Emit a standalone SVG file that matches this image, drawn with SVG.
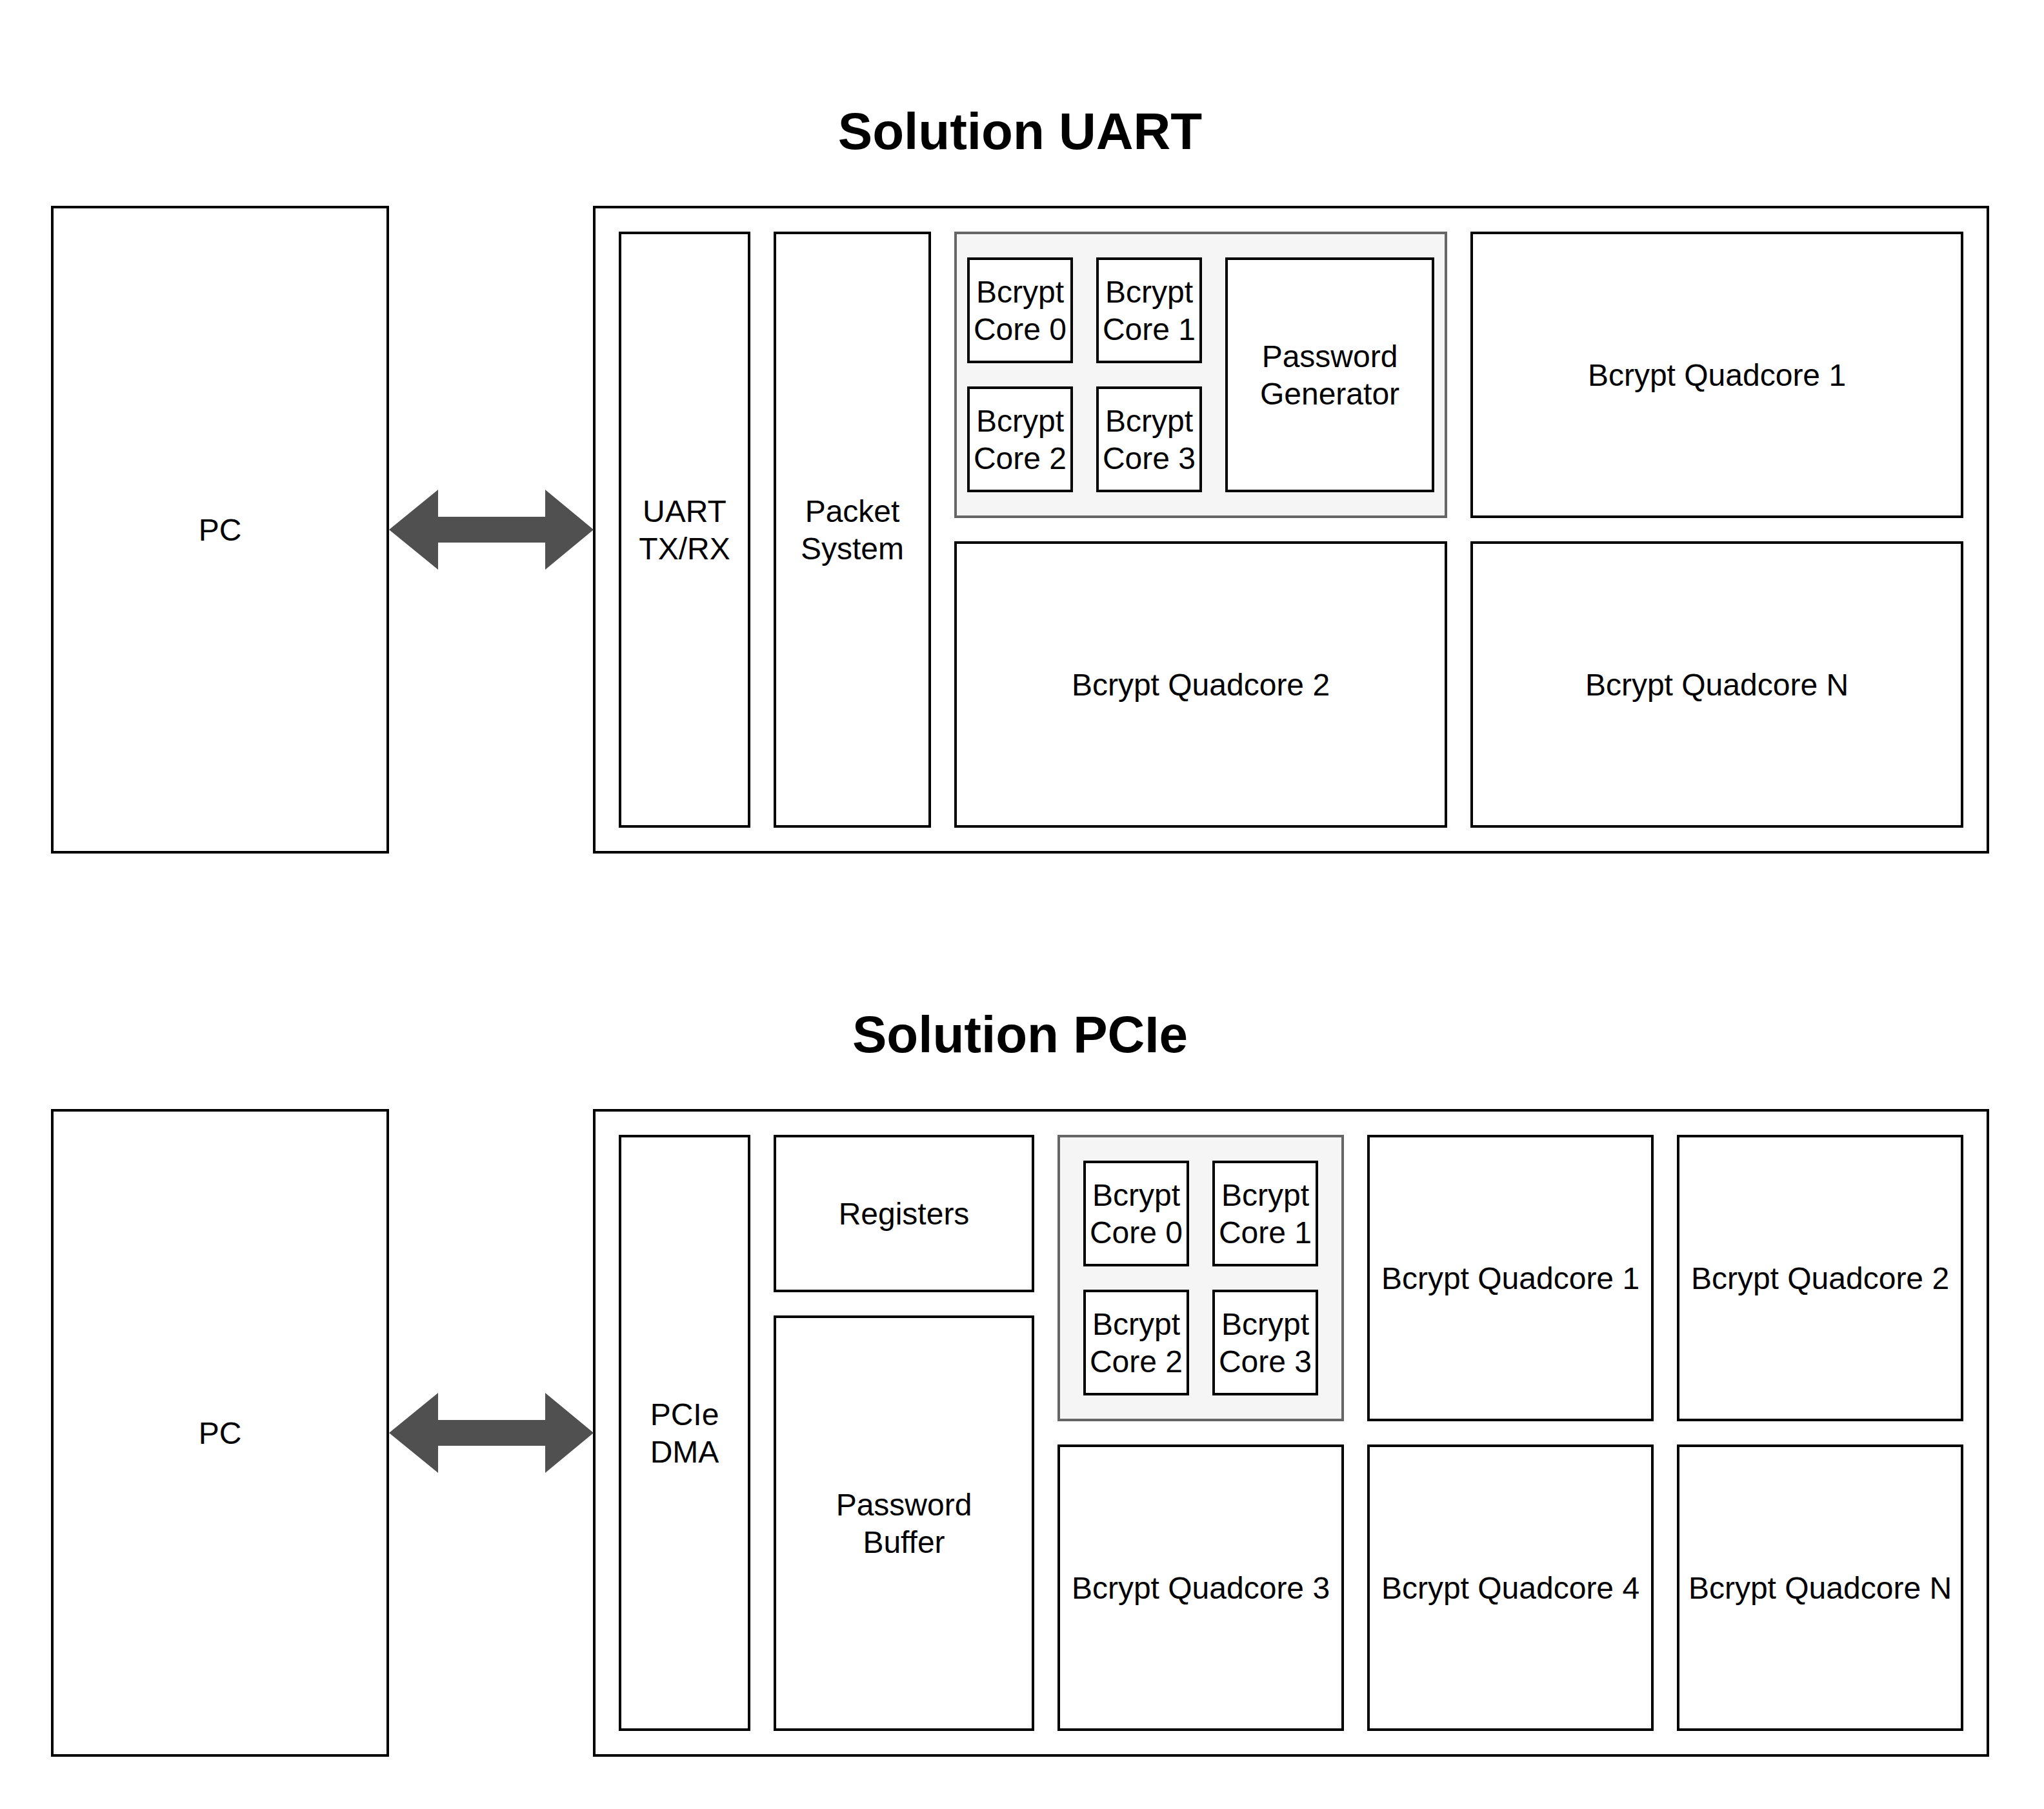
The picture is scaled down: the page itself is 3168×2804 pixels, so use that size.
<svg xmlns="http://www.w3.org/2000/svg" width="3168" height="2804" viewBox="0 0 3168 2804">
<style>
.b{fill:#ffffff;stroke:#000000;stroke-width:4}
.g{fill:#f5f5f5;stroke:#666666;stroke-width:4}
.t{font-family:"Liberation Sans",Arial,Helvetica,sans-serif;font-size:48px;fill:#000000;text-anchor:middle}
.h{font-family:"Liberation Sans",Arial,Helvetica,sans-serif;font-size:80px;font-weight:bold;fill:#000000;text-anchor:middle}
.a{fill:#505050;stroke:none}
</style>
<rect x="0" y="0" width="3168" height="2804" fill="#ffffff"/>
<g id="title-uart"><text class="h" x="1581" y="231">Solution UART</text></g>
<g id="title-pcie"><text class="h" x="1581" y="1631">Solution PCIe</text></g>

<!-- Top section: UART -->
<g id="uart-pc"><rect class="b" x="81" y="321" width="520" height="1000"/><text class="t" x="341" y="838">PC</text></g>
<g id="uart-fpga"><rect class="b" x="921" y="321" width="2160" height="1000"/></g>
<g id="uart-txrx"><rect class="b" x="961" y="361" width="200" height="920"/><text class="t" x="1061" y="809">UART</text><text class="t" x="1061" y="867">TX/RX</text></g>
<g id="uart-packet"><rect class="b" x="1201" y="361" width="240" height="920"/><text class="t" x="1321" y="809">Packet</text><text class="t" x="1321" y="867">System</text></g>
<g id="uart-quad0"><rect class="g" x="1481" y="361" width="760" height="440"/></g>
<g id="uart-core0"><rect class="b" x="1501" y="401" width="160" height="160"/><text class="t" x="1581" y="469">Bcrypt</text><text class="t" x="1581" y="527">Core 0</text></g>
<g id="uart-core1"><rect class="b" x="1701" y="401" width="160" height="160"/><text class="t" x="1781" y="469">Bcrypt</text><text class="t" x="1781" y="527">Core 1</text></g>
<g id="uart-core2"><rect class="b" x="1501" y="601" width="160" height="160"/><text class="t" x="1581" y="669">Bcrypt</text><text class="t" x="1581" y="727">Core 2</text></g>
<g id="uart-core3"><rect class="b" x="1701" y="601" width="160" height="160"/><text class="t" x="1781" y="669">Bcrypt</text><text class="t" x="1781" y="727">Core 3</text></g>
<g id="uart-pwgen"><rect class="b" x="1901" y="401" width="320" height="360"/><text class="t" x="2061" y="569">Password</text><text class="t" x="2061" y="627">Generator</text></g>
<g id="uart-quad1"><rect class="b" x="2281" y="361" width="760" height="440"/><text class="t" x="2661" y="598">Bcrypt Quadcore 1</text></g>
<g id="uart-quad2"><rect class="b" x="1481" y="841" width="760" height="440"/><text class="t" x="1861" y="1078">Bcrypt Quadcore 2</text></g>
<g id="uart-quadN"><rect class="b" x="2281" y="841" width="760" height="440"/><text class="t" x="2661" y="1078">Bcrypt Quadcore N</text></g>

<!-- Bottom section: PCIe -->
<g id="pcie-pc"><rect class="b" x="81" y="1721" width="520" height="1000"/><text class="t" x="341" y="2238">PC</text></g>
<g id="pcie-fpga"><rect class="b" x="921" y="1721" width="2160" height="1000"/></g>
<g id="pcie-dma"><rect class="b" x="961" y="1761" width="200" height="920"/><text class="t" x="1061" y="2209">PCIe</text><text class="t" x="1061" y="2267">DMA</text></g>
<g id="pcie-registers"><rect class="b" x="1201" y="1761" width="400" height="240"/><text class="t" x="1401" y="1898">Registers</text></g>
<g id="pcie-pwbuf"><rect class="b" x="1201" y="2041" width="400" height="640"/><text class="t" x="1401" y="2349">Password</text><text class="t" x="1401" y="2407">Buffer</text></g>
<g id="pcie-quad0"><rect class="g" x="1641" y="1761" width="440" height="440"/></g>
<g id="pcie-core0"><rect class="b" x="1681" y="1801" width="160" height="160"/><text class="t" x="1761" y="1869">Bcrypt</text><text class="t" x="1761" y="1927">Core 0</text></g>
<g id="pcie-core1"><rect class="b" x="1881" y="1801" width="160" height="160"/><text class="t" x="1961" y="1869">Bcrypt</text><text class="t" x="1961" y="1927">Core 1</text></g>
<g id="pcie-core2"><rect class="b" x="1681" y="2001" width="160" height="160"/><text class="t" x="1761" y="2069">Bcrypt</text><text class="t" x="1761" y="2127">Core 2</text></g>
<g id="pcie-core3"><rect class="b" x="1881" y="2001" width="160" height="160"/><text class="t" x="1961" y="2069">Bcrypt</text><text class="t" x="1961" y="2127">Core 3</text></g>
<g id="pcie-quad1"><rect class="b" x="2121" y="1761" width="440" height="440"/><text class="t" x="2341" y="1998">Bcrypt Quadcore 1</text></g>
<g id="pcie-quad2"><rect class="b" x="2601" y="1761" width="440" height="440"/><text class="t" x="2821" y="1998">Bcrypt Quadcore 2</text></g>
<g id="pcie-quad3"><rect class="b" x="1641" y="2241" width="440" height="440"/><text class="t" x="1861" y="2478">Bcrypt Quadcore 3</text></g>
<g id="pcie-quad4"><rect class="b" x="2121" y="2241" width="440" height="440"/><text class="t" x="2341" y="2478">Bcrypt Quadcore 4</text></g>
<g id="pcie-quadN"><rect class="b" x="2601" y="2241" width="440" height="440"/><text class="t" x="2821" y="2478">Bcrypt Quadcore N</text></g>

<g id="connectors">
<path class="a" d="M603 821 L679 759 L679 801 L845 801 L845 759 L920 821 L845 883 L845 841 L679 841 L679 883 Z"/>
<path class="a" d="M603 2221 L679 2159 L679 2201 L845 2201 L845 2159 L920 2221 L845 2283 L845 2241 L679 2241 L679 2283 Z"/>
</g>
</svg>
